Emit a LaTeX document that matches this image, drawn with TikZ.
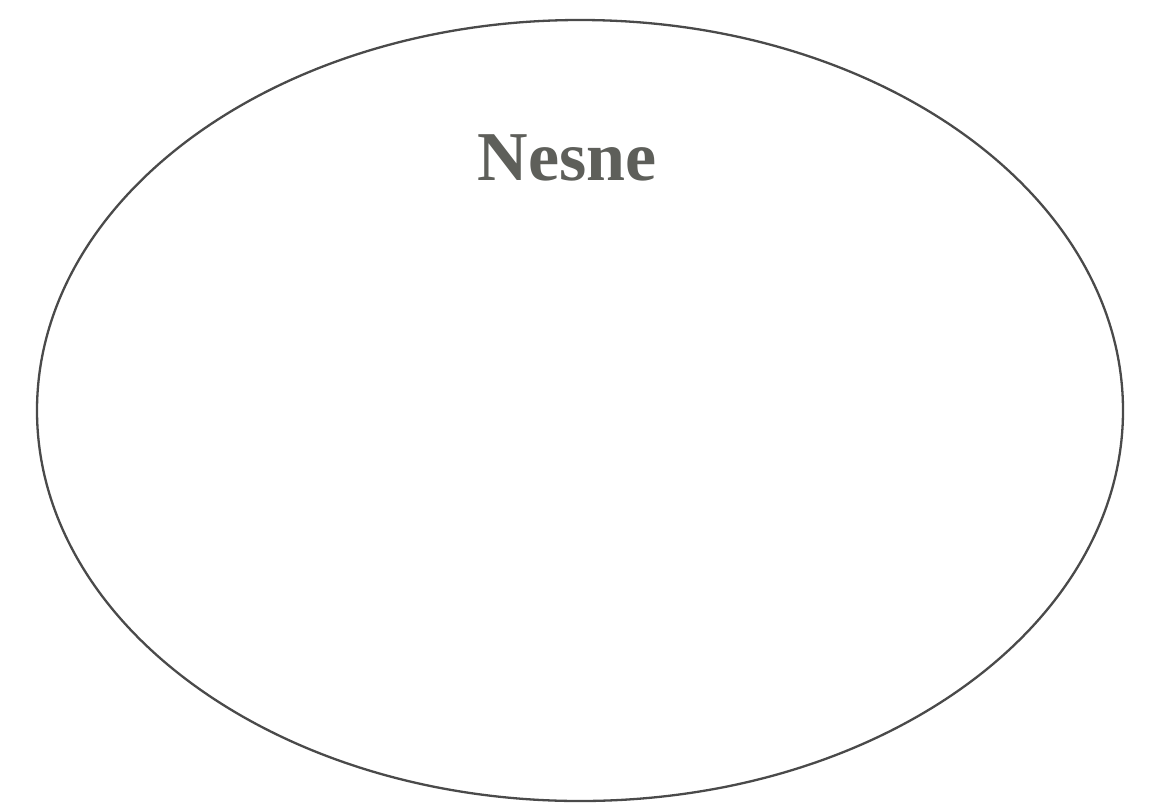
\documentclass[tikz,border=0pt]{standalone}
\usepackage{fontspec}
\setmainfont{Liberation Serif}
\usetikzlibrary{shapes.geometric}
\definecolor{inkgray}{HTML}{5E5F5A}
\definecolor{linegray}{HTML}{4A4A4A}
\tikzset{
  outline/.style={draw=linegray, line width=2.3pt},
  titletext/.style={text=inkgray, font=\fontsize{70}{70}\selectfont\bfseries, inner sep=0pt}
}
\begin{document}
\begin{tikzpicture}[x=1pt,y=-1pt]
\useasboundingbox (0,0) rectangle (1151,804);
\fill[white] (0,0) rectangle (1151,804);
\draw[outline] (580,410.5) ellipse [x radius=543, y radius=390.5];
\node[titletext, anchor=base] (title) at (567,180) {Nesne};
\end{tikzpicture}
\end{document}
